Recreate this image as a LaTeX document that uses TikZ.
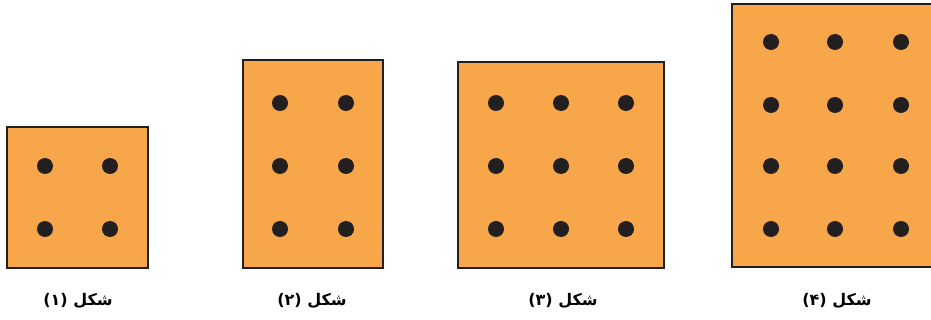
\documentclass[tikz,border=0pt]{standalone}
\usepackage{fontspec}
\newfontfamily\arabicfont[Script=Arabic]{DejaVu Sans}
\TeXXeTstate=1
\definecolor{boxfill}{RGB}{247,166,74}
\definecolor{dotcol}{RGB}{35,31,32}
\definecolor{edgecol}{RGB}{35,31,32}
\begin{document}
\begin{tikzpicture}[x=1pt,y=-1pt,
  boxstyle/.style={draw=edgecol,fill=boxfill,line width=2.4pt},
  dotstyle/.style={circle,fill=dotcol,inner sep=0pt,minimum size=16pt},
  lab/.style={font=\arabicfont\bfseries\fontsize{16}{18}\selectfont,inner sep=0pt}]
\useasboundingbox (0,0) rectangle (931,320);
\begin{scope}
\clip (0,0) rectangle (931,320);
% box 1
\draw[boxstyle] (7,127) rectangle (148,268);
\foreach \x in {45,110} \foreach \y in {166,229}
  \node[dotstyle] (d1-\x-\y) at (\x,\y) {};
% box 2
\draw[boxstyle] (243,60) rectangle (383,268);
\foreach \x in {280,346} \foreach \y in {103,166,229}
  \node[dotstyle] (d2-\x-\y) at (\x,\y) {};
% box 3
\draw[boxstyle] (458,62) rectangle (664,268);
\foreach \x in {496,561,626} \foreach \y in {103,166,229}
  \node[dotstyle] (d3-\x-\y) at (\x,\y) {};
% box 4
\draw[boxstyle] (732,4) rectangle (940,267);
\foreach \x in {771,835,901} \foreach \y in {42,105,166,229}
  \node[dotstyle] (d4-\x-\y) at (\x,\y) {};
\end{scope}
\node[lab] (l1) at (78,301) {\beginR شکل (۱)\endR};
\node[lab] (l2) at (312,301) {\beginR شکل (۲)\endR};
\node[lab] (l3) at (563,301) {\beginR شکل (۳)\endR};
\node[lab] (l4) at (837,301) {\beginR شکل (۴)\endR};
\end{tikzpicture}
\end{document}
